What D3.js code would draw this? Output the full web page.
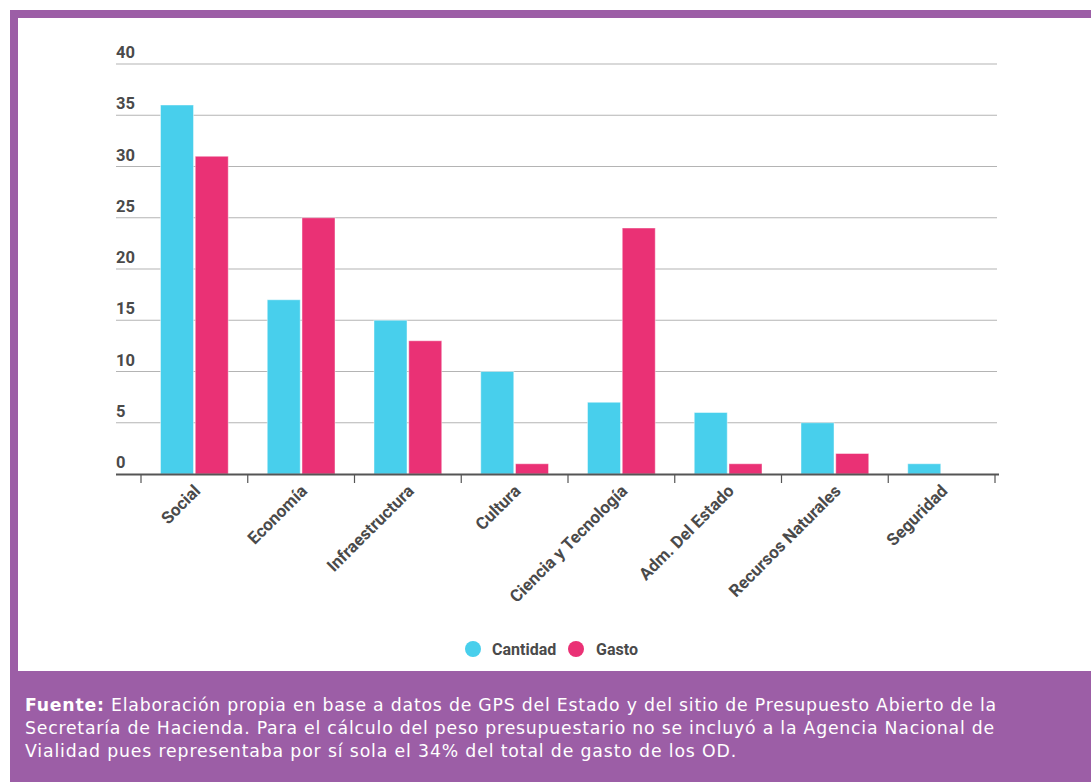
<!DOCTYPE html>
<html>
<head>
<meta charset="utf-8">
<script src="https://cdn.jsdelivr.net/npm/d3@7"></script>
<style>
  body { margin: 0; background: #fff; }
  svg { display: block; }
</style>
</head>
<body>
<svg id="chart" width="1091" height="783"></svg>
<script>
// Categories and series
const categories = ["Social", "Economía", "Infraestructura", "Cultura",
  "Ciencia y Tecnología", "Adm. Del Estado", "Recursos Naturales", "Seguridad"];
const seriesNames = ["Cantidad", "Gasto"];
const cantidad = [36, 17, 15, 10, 7, 6, 5, 1];
const gasto = [31, 25, 13, 1, 24, 1, 2, 0];
const yTicks = [0, 5, 10, 15, 20, 25, 30, 35, 40];
const captionLead = "Fuente:";
const captionLines = [
  " Elaboración propia en base a datos de GPS del Estado y del sitio de Presupuesto Abierto de la",
  "Secretaría de Hacienda. Para el cálculo del peso presupuestario no se incluyó a la Agencia Nacional de",
  "Vialidad pues representaba por sí sola el 34% del total de gasto de los OD."
];

const colors = { Cantidad: "#48cfec", Gasto: "#ea3175" };
const purple = "#9c5ea6";
const textGray = "#4a4a4a";

const svg = d3.select("#chart");

// Frame: purple panel with white chart area
svg.append("rect").attr("x", 10).attr("y", 10).attr("width", 1081).attr("height", 772).attr("fill", purple);
svg.append("rect").attr("x", 18).attr("y", 18).attr("width", 1073).attr("height", 653).attr("fill", "#fff");

// Scales
const y = d3.scaleLinear().domain([0, 40]).range([474, 64]);
const x0 = d3.scaleBand().domain(categories).range([141, 995]).padding(0);
const x1 = d3.scaleBand().domain(seriesNames)
  .range([19.5, x0.bandwidth() - 19.5]).paddingInner(0.05);

const gridLeft = 116, gridRight = 997;

// Gridlines
svg.append("g").selectAll("line")
  .data(yTicks.filter(t => t > 0))
  .join("line")
  .attr("x1", gridLeft).attr("x2", gridRight)
  .attr("y1", d => y(d)).attr("y2", d => y(d))
  .attr("stroke", "#b4b4b4").attr("stroke-width", 1.2);

// Y tick labels above their gridlines
svg.append("g").selectAll("text")
  .data(yTicks)
  .join("text")
  .attr("x", gridLeft)
  .attr("y", d => y(d) - 6)
  .attr("font-family", "Roboto, sans-serif")
  .attr("font-weight", 700)
  .attr("font-size", 16.5)
  .attr("fill", textGray)
  .text(d => d);

// Bars
const rows = categories.map((c, i) => ({ cat: c, values: [
  { key: "Cantidad", value: cantidad[i] },
  { key: "Gasto", value: gasto[i] }
]}));

const groups = svg.append("g").selectAll("g")
  .data(rows)
  .join("g")
  .attr("transform", d => `translate(${x0(d.cat)},0)`);

groups.selectAll("rect")
  .data(d => d.values.filter(v => v.value > 0))
  .join("rect")
  .attr("x", d => x1(d.key))
  .attr("width", x1.bandwidth())
  .attr("y", d => y(d.value))
  .attr("height", d => y(0) - y(d.value))
  .attr("fill", d => colors[d.key])
  .attr("stroke", "rgba(255,255,255,0.45)")
  .attr("stroke-width", 1);

// X axis baseline and band-edge ticks
svg.append("line")
  .attr("x1", gridLeft).attr("x2", 999)
  .attr("y1", y(0) + 0.5).attr("y2", y(0) + 0.5)
  .attr("stroke", "#555").attr("stroke-width", 2);

const edges = categories.map(c => x0(c)).concat([x0.range()[1]]);
svg.append("g").selectAll("line")
  .data(edges)
  .join("line")
  .attr("x1", d => d).attr("x2", d => d)
  .attr("y1", y(0)).attr("y2", y(0) + 9)
  .attr("stroke", "#555").attr("stroke-width", 1.2);

// Rotated category labels
svg.append("g").selectAll("text")
  .data(categories)
  .join("text")
  .attr("transform", d => `translate(${x0(d) + x0.bandwidth() / 2 + 7},${y(0) + 18}) rotate(-45)`)
  .attr("text-anchor", "end")
  .attr("font-family", "Roboto, sans-serif")
  .attr("font-weight", 700)
  .attr("font-size", 17)
  .attr("fill", textGray)
  .text(d => d);

// Legend
const legendItems = [
  { key: "Cantidad", cx: 473, tx: 492 },
  { key: "Gasto", cx: 576, tx: 596 }
];
const legend = svg.append("g");
legend.selectAll("circle")
  .data(legendItems)
  .join("circle")
  .attr("cx", d => d.cx).attr("cy", 649).attr("r", 8)
  .attr("fill", d => colors[d.key]);
legend.selectAll("text")
  .data(legendItems)
  .join("text")
  .attr("x", d => d.tx).attr("y", 655)
  .attr("font-family", "Roboto, sans-serif")
  .attr("font-weight", 700)
  .attr("font-size", 16)
  .attr("fill", textGray)
  .text(d => d.key);

// Source note, each line spaced out to its set width
const note = svg.append("g")
  .attr("font-family", "'DejaVu Sans', sans-serif")
  .attr("font-size", 17.3)
  .attr("fill", "#fff");
const lineWidths = [972, 970, 712];
const lineYs = [711, 734, 757];
const noteLines = lineYs.map((ly, i) => note.append("text").attr("x", 25).attr("y", ly));
noteLines[0].append("tspan").attr("font-weight", 700).text(captionLead);
noteLines[0].append("tspan").text(captionLines[0]);
noteLines[1].text(captionLines[1]);
noteLines[2].text(captionLines[2]);
noteLines.forEach((t, i) => {
  const w = t.node().getComputedTextLength();
  const n = t.text().length;
  t.attr("letter-spacing", (lineWidths[i] - w) / n);
});
</script>
</body>
</html>
